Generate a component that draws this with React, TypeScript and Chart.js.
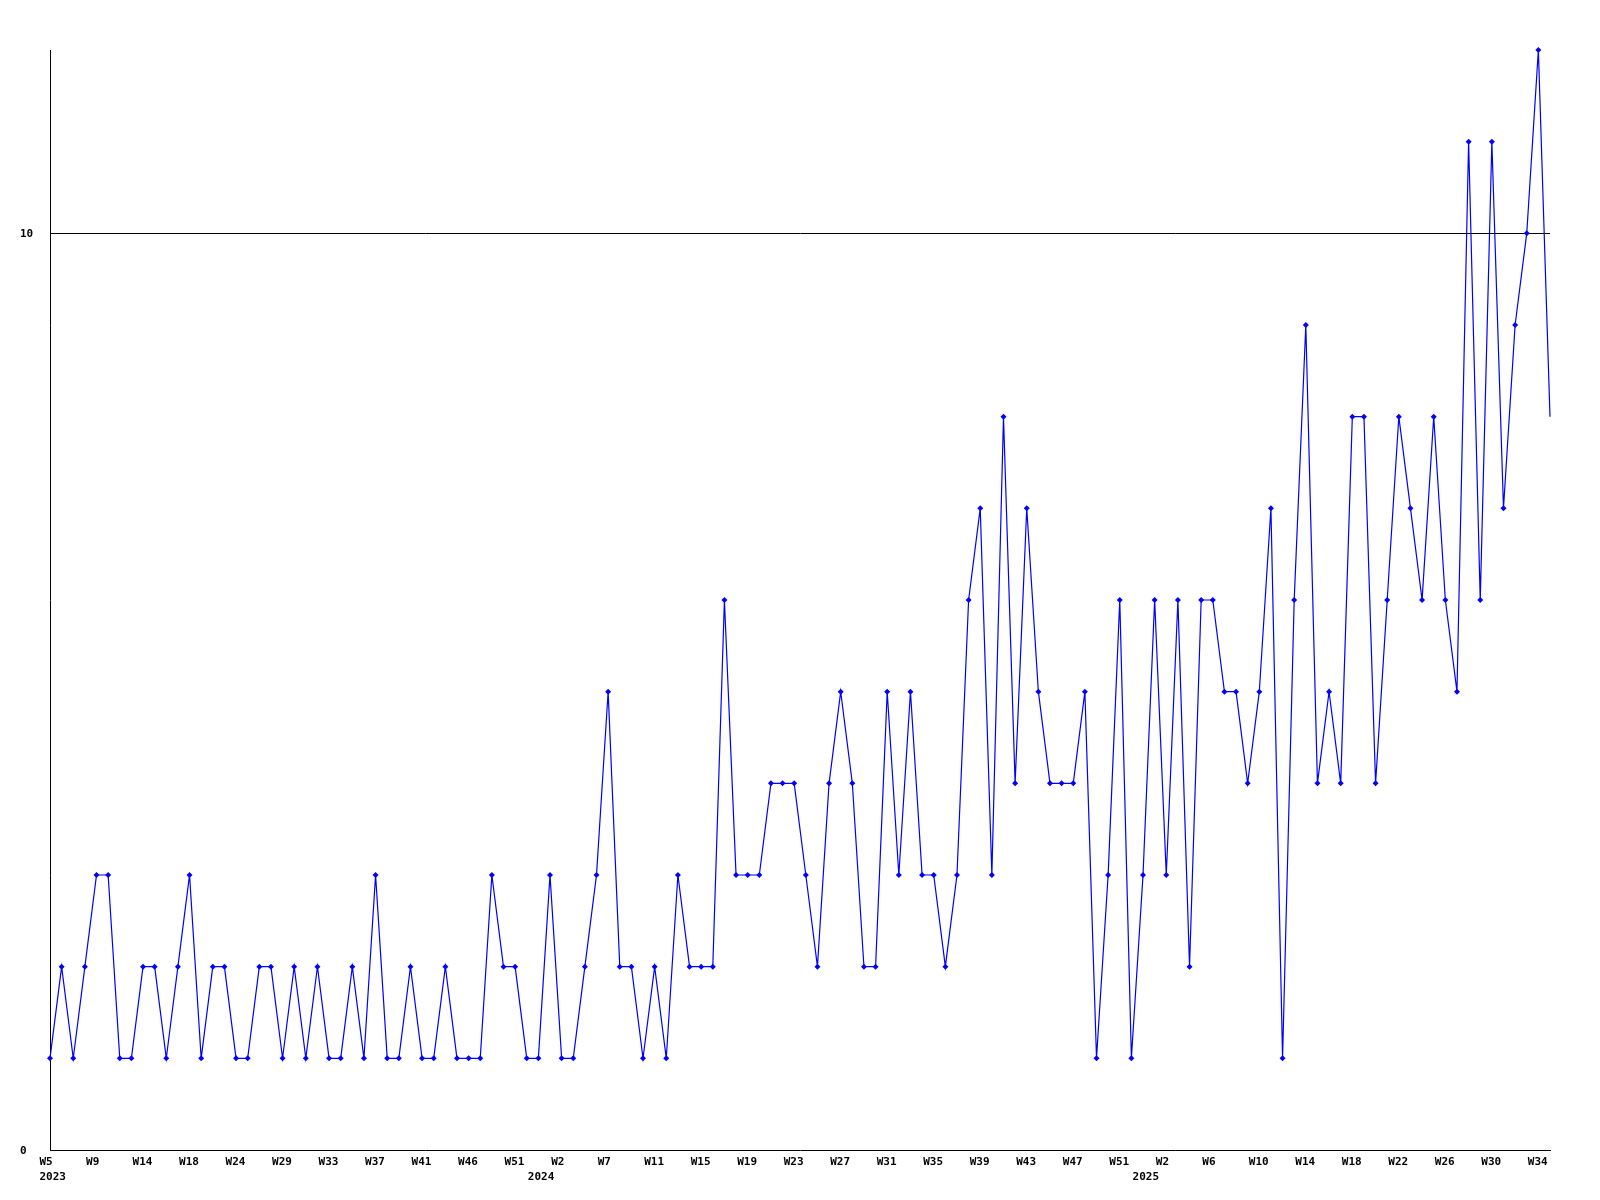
import React, { useEffect, useRef } from "react";
import { Chart, registerables } from "chart.js";

Chart.register(...registerables);

// Weekly tick labels (one every 4th point)
const weekLabels = [
  "W5", "W9", "W14", "W18", "W24", "W29", "W33", "W37", "W41", "W46", "W51",
  "W2", "W7", "W11", "W15", "W19", "W23", "W27", "W31", "W35", "W39", "W43", "W47", "W51",
  "W2", "W6", "W10", "W14", "W18", "W22", "W26", "W30", "W34",
];

// Year labels and the point index at which each appears
const yearLabels = ["2023", "2024", "2025"];
const yearIndex = [0, 42, 94];

// Series values
const values = [
  1, 2, 1, 2, 3, 3, 1, 1, 2, 2,
  1, 2, 3, 1, 2, 2, 1, 1, 2, 2,
  1, 2, 1, 2, 1, 1, 2, 1, 3, 1,
  1, 2, 1, 1, 2, 1, 1, 1, 3, 2,
  2, 1, 1, 3, 1, 1, 2, 3, 5, 2,
  2, 1, 2, 1, 3, 2, 2, 2, 6, 3,
  3, 3, 4, 4, 4, 3, 2, 4, 5, 4,
  2, 2, 5, 3, 5, 3, 3, 2, 3, 6,
  7, 3, 8, 4, 7, 5, 4, 4, 4, 5,
  1, 3, 6, 1, 3, 6, 3, 6, 2, 6,
  6, 5, 5, 4, 5, 7, 1, 6, 9, 4,
  5, 4, 8, 8, 4, 6, 8, 7, 6, 8,
  6, 5, 11, 6, 11, 7, 9, 10, 12, 8,
];

const yTicks = [0, 10];
const yMin = 0;
const yMax = 12;

export default function App() {
  const canvasRef = useRef<HTMLCanvasElement | null>(null);

  useEffect(() => {
    if (!canvasRef.current) return;
    const font = { family: "'DejaVu Sans Mono', monospace", size: 11, weight: "bold" as const, lineHeight: "15px" };
    const chart = new Chart(canvasRef.current, {
      type: "line",
      data: {
        labels: values.map((_, i) => String(i)),
        datasets: [
          {
            data: values,
            borderColor: "#0000ff",
            backgroundColor: "#0000ff",
            borderWidth: 1.2,
            tension: 0,
            fill: false,
            clip: false as any,
            pointStyle: "rectRot",
            pointRadius: values.map((_, i) => (i === values.length - 1 ? 0 : 3)),
            pointBorderWidth: 0,
            pointBackgroundColor: "#0000ff",
          },
        ],
      },
      options: {
        animation: false,
        responsive: false,
        devicePixelRatio: 1,
        layout: { padding: { left: 20, top: 50, right: 50, bottom: 0 } },
        plugins: { legend: { display: false }, tooltip: { enabled: false }, title: { display: false } },
        scales: {
          x: {
            type: "category",
            offset: false,
            grid: { display: false, drawTicks: false },
            border: { display: true, color: "#000", width: 1 },
            afterFit: (scale: any) => {
              scale.height = 50;
            },
            ticks: {
              autoSkip: false,
              maxRotation: 0,
              minRotation: 0,
              align: "start",
              labelOffset: -10.5,
              padding: 5,
              color: "#000",
              font,
              callback: (_v: any, index: number) => {
                const w = index % 4 === 0 && weekLabels[index / 4] ? weekLabels[index / 4] : "";
                const yi = yearIndex.indexOf(index);
                if (yi >= 0) return [w, yearLabels[yi]];
                return w;
              },
            },
          },
          y: {
            min: yMin,
            max: yMax,
            afterBuildTicks: (scale: any) => {
              scale.ticks = yTicks.map((v) => ({ value: v }));
            },
            afterFit: (scale: any) => {
              scale.width = 30;
            },
            grid: {
              drawTicks: false,
              color: (ctx: any) => (ctx.tick && ctx.tick.value === 10 ? "#000" : "rgba(0,0,0,0)"),
              lineWidth: 1,
            },
            border: { display: true, color: "#000", width: 1 },
            ticks: {
              crossAlign: "far",
              padding: 4,
              labelOffset: 1,
              color: "#000",
              font,
              callback: (v: any) => String(v),
            },
          },
        },
      },
    });
    return () => chart.destroy();
  }, []);

  return (
    <div style={{ position: "absolute", left: 0, top: 0, width: 1600, height: 1200, background: "#fff" }}>
      <canvas ref={canvasRef} width={1600} height={1200} style={{ width: 1600, height: 1200, display: "block" }} />
    </div>
  );
}
